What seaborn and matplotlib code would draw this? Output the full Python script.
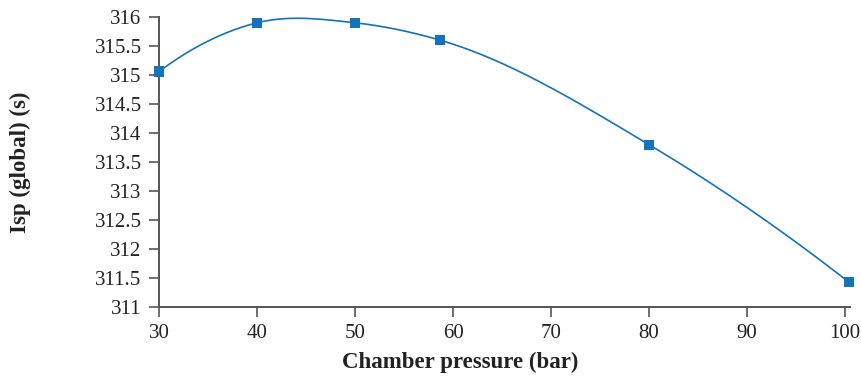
import numpy as np
import pandas as pd
import matplotlib
matplotlib.use('Agg')
import matplotlib.pyplot as plt
import seaborn as sns

# Data
pressure = [30, 40, 50, 58.7, 80, 100.4]
isp = [315.06, 315.9, 315.9, 315.6, 313.8, 311.43]

x_ticks = [30, 40, 50, 60, 70, 80, 90, 100]
y_ticks = [311, 311.5, 312, 312.5, 313, 313.5, 314, 314.5, 315, 315.5, 316]
y_tick_labels = ['311', '311.5', '312', '312.5', '313', '313.5', '314', '314.5', '315', '315.5', '316']


def smooth_curve(x, y, n=400):
    # cubic Hermite curve through the points, tangents from 3-point parabolas
    x = np.asarray(x, float)
    y = np.asarray(y, float)
    h = np.diff(x)
    s = np.diff(y) / h
    d = np.zeros(len(x))
    d[1:-1] = (h[1:] * s[:-1] + h[:-1] * s[1:]) / (h[:-1] + h[1:])
    d[0] = 2 * s[0] - d[1]
    d[-1] = 2 * s[-1] - d[-2]
    xs = np.linspace(x[0], x[-1], n)
    idx = np.clip(np.searchsorted(x, xs) - 1, 0, len(x) - 2)
    hh = h[idx]
    t = (xs - x[idx]) / hh
    h00 = 2 * t ** 3 - 3 * t ** 2 + 1
    h10 = t ** 3 - 2 * t ** 2 + t
    h01 = -2 * t ** 3 + 3 * t ** 2
    h11 = t ** 3 - t ** 2
    ys = h00 * y[idx] + h10 * hh * d[idx] + h01 * y[idx + 1] + h11 * hh * d[idx + 1]
    return xs, ys


sns.set_style('white')
plt.rcParams['font.family'] = ['Liberation Serif', 'DejaVu Serif']

df = pd.DataFrame({'pressure': pressure, 'isp': isp})
cx, cy = smooth_curve(pressure, isp)
curve = pd.DataFrame({'pressure': cx, 'isp': cy})

fig = plt.figure(figsize=(8.62, 3.82), dpi=100)
ax = fig.add_axes([0.1845, 0.196, 0.8015, 0.7595])

blue = '#1572BC'
sns.lineplot(data=curve, x='pressure', y='isp', ax=ax, color=blue, linewidth=1.2,
             sort=False, estimator=None)
sns.scatterplot(data=df, x='pressure', y='isp', ax=ax, marker='s', s=55, color=blue,
                edgecolor='none', zorder=5, clip_on=False)

ax.set_xlim(30, 100.5)
ax.set_ylim(311, 316)
ax.set_xticks(x_ticks)
ax.set_yticks(y_ticks)
ax.set_yticklabels(y_tick_labels)

for s in ['top', 'right']:
    ax.spines[s].set_visible(False)
for s in ['left', 'bottom']:
    ax.spines[s].set_color('#555555')
    ax.spines[s].set_linewidth(1.4)

ax.tick_params(axis='both', direction='out', length=7.5, width=1.2, color='#555555',
               labelsize=15, labelcolor='#222222', left=True, bottom=True)
ax.tick_params(axis='x', pad=5)
ax.tick_params(axis='y', pad=5)

ax.set_xlabel('Chamber pressure (bar)', fontsize=16.5, fontweight='bold', color='#222222', labelpad=8)
ax.xaxis.set_label_coords(0.436, -0.155)
ax.set_ylabel('Isp (global) (s)', fontsize=16.5, fontweight='bold', color='#222222', labelpad=46)

fig.savefig('out.png', dpi=100)
